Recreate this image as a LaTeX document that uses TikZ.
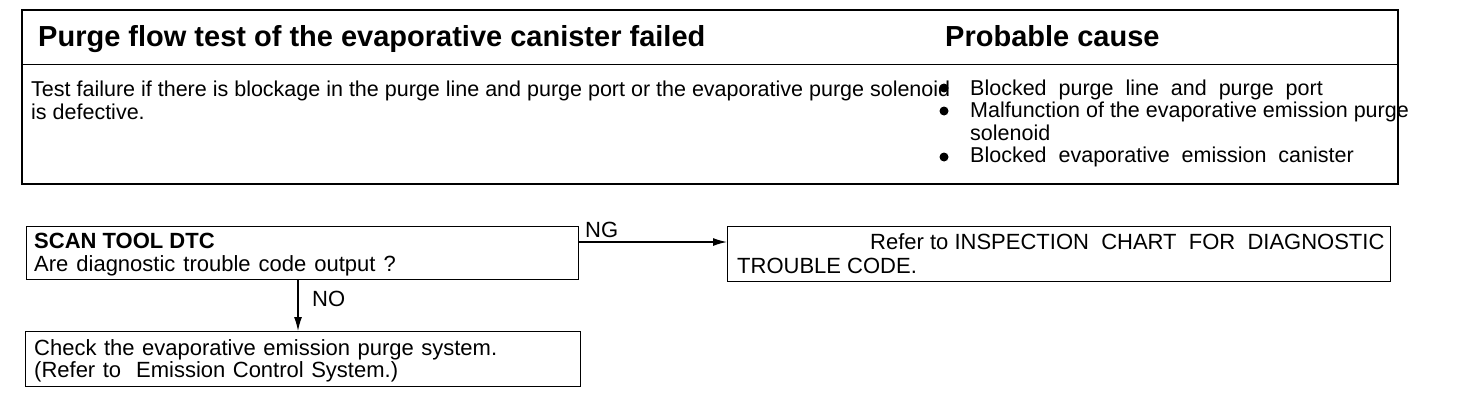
\documentclass[tikz,border=0pt]{standalone}
\usepackage{fontspec}
\setmainfont{Liberation Sans}
\usetikzlibrary{arrows.meta}
\begin{document}
\begin{tikzpicture}[x=1pt,y=-1pt,
  txt/.style={anchor=base west,inner sep=0pt,font=\fontsize{21.5}{25}\selectfont},
  ftxt/.style={anchor=base west,inner sep=0pt,font=\fontsize{22}{25}\selectfont},
  head/.style={anchor=base west,inner sep=0pt,font=\fontsize{29}{33}\selectfont\bfseries},
  flowbox/.style={draw,line width=1.2pt},
  conn/.style={line width=1.3pt,-{Latex[length=14pt,width=8pt]}}]
\useasboundingbox (0,0) rectangle (1472,418);
% top table
\draw[line width=2pt] (22,10) rectangle (1398,184);
\draw[line width=1pt] (22,64) -- (1398,64);
\node[head] (h1) at (38,46) {Purge flow test of the evaporative canister failed};
\node[head] (h2) at (945,46) {Probable cause};
\node[txt] (d1) at (31,96) {Test failure if there is blockage in the purge line and purge port or the evaporative purge solenoid};
\node[txt] (d2) at (31,119) {is defective.};
\foreach \y/\t [count=\i] in {95/{Blocked\ \ purge\ \ line\ \ and\ \ purge\ \ port},117/{Malfunction of the evaporative emission purge},140/{solenoid},162/{Blocked\ \ evaporative\ \ emission\ \ canister}}{
  \node[txt] (c\i) at (970,\y) {\t};
}
\foreach \y [count=\i] in {88,111,157}{
  \fill (944,\y) circle (4.5pt) coordinate (b\i);
}
% flow
\node[flowbox,minimum width=552pt,minimum height=53pt,anchor=north west] (q) at (26,226) {};
\node[ftxt,font=\fontsize{22}{25}\selectfont\bfseries] (q1) at (34,248) {SCAN TOOL DTC};
\node[ftxt] (q2) at (34,271) {\spaceskip=8pt Are diagnostic trouble code output ?};
\node[flowbox,minimum width=663pt,minimum height=55pt,anchor=north west] (r) at (727,226) {};
\node[ftxt] (r1) at (870,249) {Refer to INSPECTION\ \ CHART\ \ FOR\ \ DIAGNOSTIC};
\node[ftxt] (r2) at (737,273) {TROUBLE CODE.};
\node[flowbox,minimum width=555pt,minimum height=55pt,anchor=north west] (s) at (25,331) {};
\node[ftxt] (s1) at (34,355) {\spaceskip=7.5pt Check the evaporative emission purge system.};
\node[ftxt] (s2) at (34,377) {\spaceskip=7.5pt (Refer to\ \ Emission Control System.)};
\coordinate (qe) at (q.north east |- 0,242);
\draw[conn] (qe) -- (qe -| r.west);
\node[ftxt] (ng) at (585,237) {NG};
\draw[conn] (q.south -| 298,0) -- (s.north -| 298,0);
\node[ftxt] (no) at (312,306) {NO};
\end{tikzpicture}
\end{document}
